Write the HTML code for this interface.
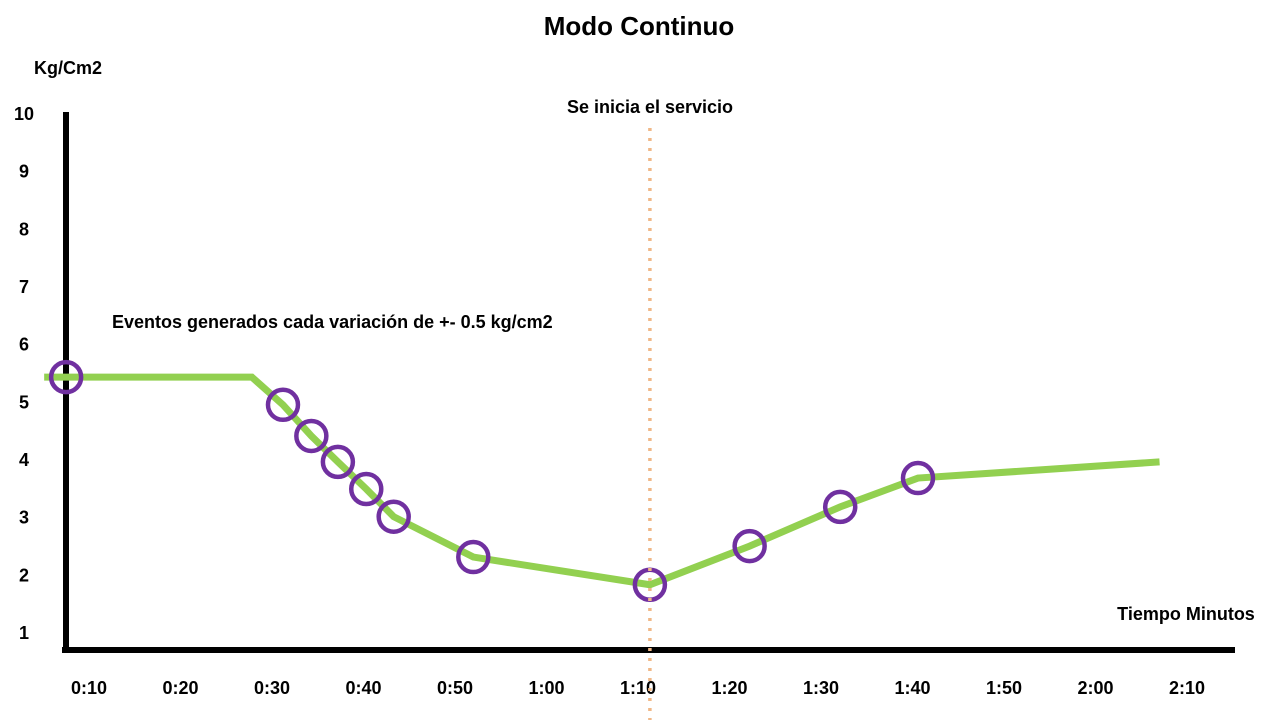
<!DOCTYPE html>
<html><head><meta charset="utf-8"><style>
html,body{margin:0;padding:0;background:#fff;}
svg{display:block;font-family:"Liberation Sans",Arial,sans-serif;font-weight:bold;}
</style></head><body>
<svg width="1280" height="720" viewBox="0 0 1280 720">
<text x="639" y="35" text-anchor="middle" font-size="26" fill="#000">Modo Continuo</text>
<text x="34" y="74" font-size="18" fill="#000">Kg/Cm2</text>
<text x="1186" y="620" text-anchor="middle" font-size="18" fill="#000">Tiempo Minutos</text>
<text x="650" y="113" text-anchor="middle" font-size="18" fill="#000">Se inicia el servicio</text>
<text x="112" y="328" font-size="18" fill="#000">Eventos generados cada variación de +- 0.5 kg/cm2</text>
<g id="yticks"></g>
<g id="xticks"></g>
<line x1="66" y1="112" x2="66" y2="653" stroke="#000" stroke-width="6"/>
<line x1="62" y1="650" x2="1235" y2="650" stroke="#000" stroke-width="6"/>
<polyline id="line" fill="none" stroke="#92d050" stroke-width="7" stroke-linejoin="miter"/>
<g id="markers"></g>
<line id="vline" y1="128" y2="720" stroke="#f0b887" stroke-width="3.5" stroke-dasharray="3 7"/>
</svg>
<script>
const yTickLabels = [1,2,3,4,5,6,7,8,9,10];
const xTickLabels = ["0:10","0:20","0:30","0:40","0:50","1:00","1:10","1:20","1:30","1:40","1:50","2:00","2:10"];
const xTickMinutes = [10,20,30,40,50,60,70,80,90,100,110,120,130];
const lineMinutes = [5.1,27.8,31.2,34.3,37.2,40.3,43.3,52.0,71.3,82.2,92.1,100.6,127.0];
const linePressure = [5.42,5.42,4.94,4.40,3.95,3.48,3.0,2.30,1.82,2.49,3.17,3.67,3.95];
const eventMinutes = [7.5,31.2,34.3,37.2,40.3,43.3,52.0,71.3,82.2,92.1,100.6];
const eventPressure = [5.42,4.94,4.40,3.95,3.48,3.0,2.30,1.82,2.49,3.17,3.67];
const serviceStartMinute = 71.3;

const NS="http://www.w3.org/2000/svg";
function xs(t){return 89+(t-10)*9.15;}
function ys(v){return 113+(10-v)*57.67;}
const yt=document.getElementById('yticks');
yTickLabels.forEach(v=>{
  const t=document.createElementNS(NS,'text');
  
  
  t.setAttribute('x',24);t.setAttribute('y',ys(v)+7);
  t.setAttribute('text-anchor','middle');t.setAttribute('font-size','18');
  t.textContent=v;yt.appendChild(t);
});
const xt=document.getElementById('xticks');
xTickLabels.forEach((l,i)=>{
  const t=document.createElementNS(NS,'text');
  
  
  t.setAttribute('x',xs(xTickMinutes[i]));t.setAttribute('y',694);
  t.setAttribute('text-anchor','middle');t.setAttribute('font-size','18');
  t.textContent=l;xt.appendChild(t);
});
document.getElementById('line').setAttribute('points',lineMinutes.map((t,i)=>xs(t)+','+ys(linePressure[i])).join(' '));
const mk=document.getElementById('markers');
eventMinutes.forEach((t,i)=>{
  const c=document.createElementNS(NS,'circle');
  
  
  c.setAttribute('cx',xs(t));c.setAttribute('cy',ys(eventPressure[i]));
  c.setAttribute('r',15);c.setAttribute('fill','none');
  c.setAttribute('stroke','#7030a0');c.setAttribute('stroke-width','4.5');
  mk.appendChild(c);
});
const vl=document.getElementById('vline');
vl.setAttribute('x1',xs(serviceStartMinute));vl.setAttribute('x2',xs(serviceStartMinute));
</script>
</body></html>
